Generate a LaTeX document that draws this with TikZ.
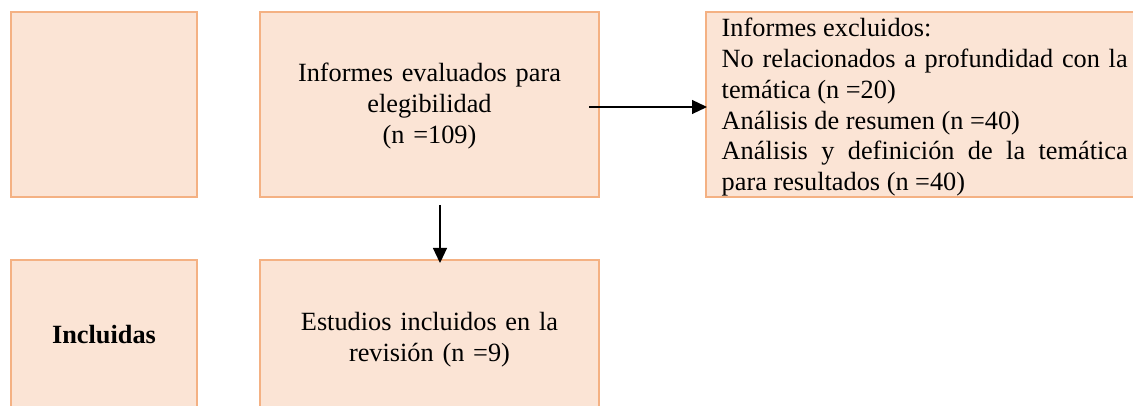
\documentclass[tikz,border=0pt]{standalone}
\usepackage{fontspec}
\setmainfont{Liberation Serif}
\usetikzlibrary{arrows.meta}
\definecolor{boxfill}{HTML}{FBE4D5}
\definecolor{boxline}{HTML}{F4B183}
\tikzset{
  box/.style={draw=boxline, fill=boxfill, line width=2pt, rectangle, inner sep=0pt, outer sep=0pt},
  lbl/.style={inner sep=0pt, outer sep=0pt, font=\fontsize{26.3}{30.8}\selectfont, text=black},
  arr/.style={line width=1.2pt, -{Triangle[length=15pt,width=14pt]}}
}
\begin{document}
\begin{tikzpicture}[x=1pt,y=-1pt]
\useasboundingbox (0,0) rectangle (1133,406);
\clip (0,0) rectangle (1133,406);
% boxes
\node[box, minimum width=186pt, minimum height=185pt] (A) at (104,104.5) {};
\node[box, minimum width=339pt, minimum height=185pt] (B) at (429.5,104.5) {};
\node[box, minimum width=444pt, minimum height=185pt] (C) at (928,104.5) {};
\node[box, minimum width=186pt, minimum height=160pt] (D) at (104,340) {};
\node[box, minimum width=339pt, minimum height=160pt] (E) at (429.5,340) {};
% texts
\node[lbl, anchor=base, text width=339pt, align=center] (Bt) at (429.5,81.7)
  {Informes evaluados para\\elegibilidad\\(n =109)};
\node[lbl, anchor=base west, text width=406pt, align=justify] (Ct) at (721.7,36.7)
  {Informes excluidos:\\No relacionados a profundidad con la\linebreak temática (n =20)\\Análisis de resumen (n =40)\\Análisis y definición de la temática\linebreak para resultados (n =40)};
\node[lbl, anchor=base, font=\fontsize{26.3}{30.8}\selectfont\bfseries] (Dt) at (104,343) {Incluidas};
\node[lbl, anchor=base, text width=339pt, align=center] (Et) at (429.5,330.3)
  {Estudios incluidos en la\\revisión (n =9)};
% connectors
\draw[arr] ([xshift=-10pt,yshift=-2.5pt]B.east) -- ([xshift=1pt,yshift=-2.5pt]C.west);
\draw[arr] ([xshift=10.5pt,yshift=-8pt]B.south) -- ([xshift=10.5pt,yshift=-3pt]E.north);
\end{tikzpicture}
\end{document}
